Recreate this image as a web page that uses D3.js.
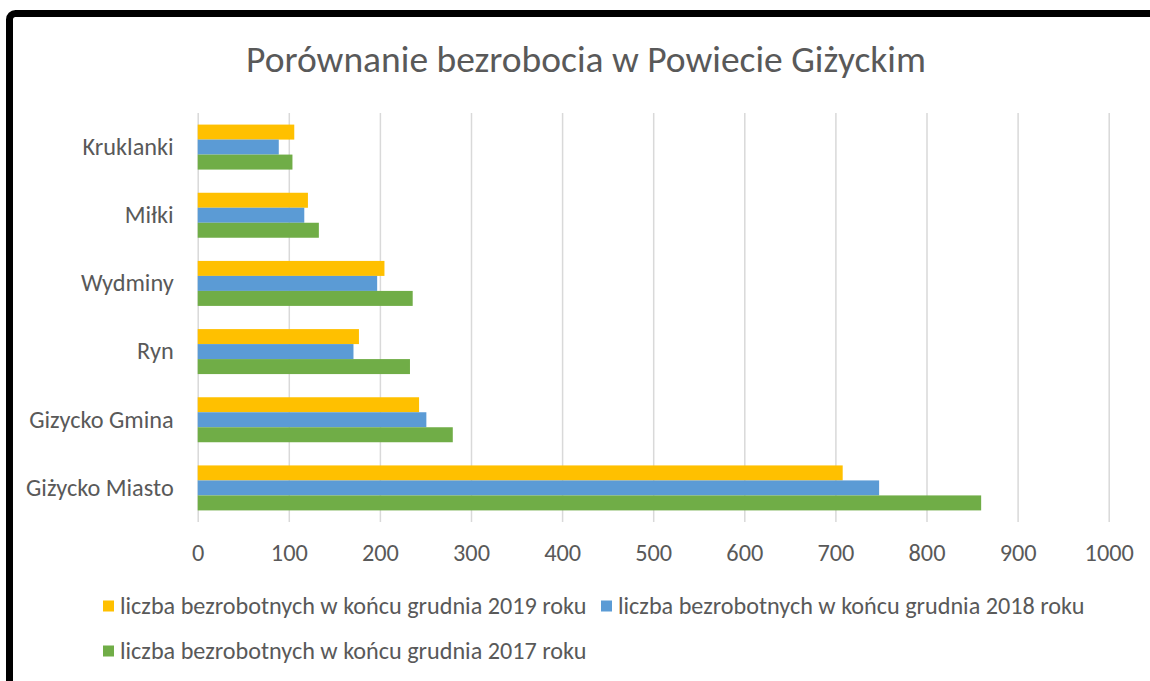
<!DOCTYPE html>
<html><head><meta charset="utf-8">
<script src="https://cdn.jsdelivr.net/npm/d3@7"></script>
<style>
html,body{margin:0;padding:0;background:#fff;overflow:hidden}
text{font-family:Carlito,Calibri,Lato,sans-serif;fill:#595959}
</style></head>
<body><svg id="c" width="1150" height="681"></svg>
<script>
const title = "Porównanie bezrobocia w Powiecie Giżyckim";
const categories = ["Kruklanki","Miłki","Wydminy","Ryn","Gizycko Gmina","Giżycko Miasto"];
const seriesNames = [
  "liczba bezrobotnych w końcu grudnia 2019 roku",
  "liczba bezrobotnych w końcu grudnia 2018 roku",
  "liczba bezrobotnych w końcu grudnia 2017 roku"
];
const values2019 = [106,121,205,177,243,708];
const values2018 = [89,117,197,171,251,748];
const values2017 = [104,133,236,233,280,860];
const xTicks = [0,100,200,300,400,500,600,700,800,900,1000];
const colors = ["#FFC000","#5B9BD5","#70AD47"];

const seriesValues = [values2019, values2018, values2017];
const svg = d3.select("#c");

// chart border
svg.append("rect").attr("x",9.5).attr("y",13.5).attr("width",1300).attr("height",800)
  .attr("rx",6).attr("fill","#fff").attr("stroke","#000").attr("stroke-width",7);

const x = d3.scaleLinear().domain([0,1000]).range([197.7,1108.7]);
const y = d3.scaleBand().domain(categories).range([113,522]).paddingInner(0.34).paddingOuter(0.17);
const ys = d3.scaleBand().domain(d3.range(3)).range([0,y.bandwidth()]);

// gridlines
const grid = svg.append("g").attr("transform","translate(0,522)")
  .call(d3.axisBottom(x).tickValues(xTicks).tickSize(-409).tickFormat(""));
grid.select(".domain").remove();
grid.selectAll(".tick line").attr("stroke","#d9d9d9").attr("stroke-width",1.5);

// tick labels
const xa = svg.append("g").attr("transform","translate(0,522)")
  .call(d3.axisBottom(x).tickValues(xTicks).tickSize(0).tickPadding(22).tickFormat(d3.format("d")));
xa.select(".domain").remove();
xa.selectAll("text").attr("font-size",24.3).style("fill","#595959").attr("font-family",null);

// bars
const rows = categories.map((c,i)=>({c, v: seriesValues.map(s=>s[i])}));
const g = svg.append("g").selectAll("g").data(rows).join("g")
  .attr("transform",d=>`translate(0,${y(d.c)})`);
g.selectAll("rect").data(d=>d.v.map((v,k)=>({v,k}))).join("rect")
  .attr("x",x(0)).attr("y",d=>ys(d.k)).attr("width",d=>x(d.v)-x(0)).attr("height",ys.bandwidth())
  .attr("fill",d=>colors[d.k]);

// category labels
const ya = svg.append("g").attr("transform",`translate(${x(0)},0)`)
  .call(d3.axisLeft(y).tickSize(0).tickPadding(24));
ya.select(".domain").remove();
ya.selectAll("text").attr("font-size",24.3).style("fill","#595959").attr("font-family",null);

// title
svg.append("text").attr("x",586).attr("y",72).attr("text-anchor","middle")
  .attr("font-size",37.5).text(title);

// legend
const legendPos = [[103,606],[601,606],[103,651]];
const lg = svg.append("g").selectAll("g").data(seriesNames).join("g")
  .attr("transform",(d,i)=>`translate(${legendPos[i][0]},${legendPos[i][1]})`);
lg.append("rect").attr("x",0).attr("y",-5.5).attr("width",11).attr("height",11).attr("fill",(d,i)=>colors[i]);
lg.append("text").attr("x",17).attr("y",0).attr("dy","0.35em").attr("font-size",24.2).text(d=>d);
</script></body></html>
